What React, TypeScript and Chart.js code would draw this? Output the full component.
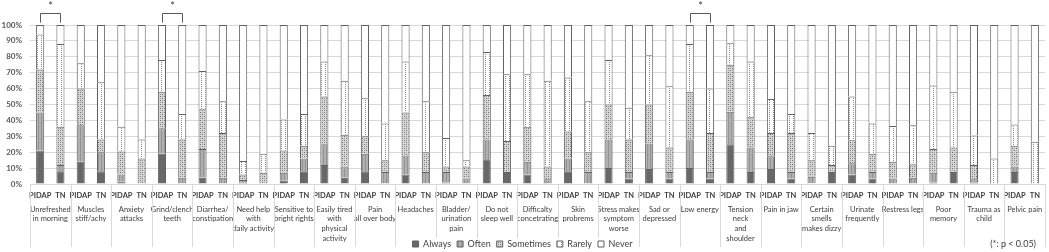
import React, { useEffect, useRef } from "react";
import { Chart, registerables } from "chart.js";

Chart.register(...registerables);

// ---------- DATA ----------
const groupLabels: string[][] = [
  ["Unrefreshed", "in morning"],
  ["Muscles", "stiff/achy"],
  ["Anxiety", "attacks"],
  ["Grind/clench", "teeth"],
  ["Diarrhea/", "constipation"],
  ["Need help", "with", "daily activity"],
  ["Sensitive to", "bright rights"],
  ["Easily tired", "with", "physical", "activity"],
  ["Pain", "all over body"],
  ["Headaches"],
  ["Bladder/", "urination", "pain"],
  ["Do not", "sleep well"],
  ["Difficalty", "concetrating"],
  ["Skin", "probrems"],
  ["Stress makes", "symptom", "worse"],
  ["Sad or", "depressed"],
  ["Low energy"],
  ["Tension", "neck", "and", "shoulder"],
  ["Pain in jaw"],
  ["Certain", "smells", "makes dizzy"],
  ["Urinate", "frequently"],
  ["Restress legs"],
  ["Poor", "memory"],
  ["Trauma as", "child"],
  ["Pelvic pain"],
];

const subGroups = ["PIDAP", "TN"];

const seriesNames = ["Always", "Often", "Sometimes", "Rarely", "Never"];

// percentages per bar (PIDAP, TN alternating, in group order)
const always = [21, 8, 14, 8, 1.5, 0, 19, 0, 4, 0, 1, 0, 2, 8, 12, 4, 8, 0, 6, 0, 1, 0, 15.5, 7.5, 6, 0, 8, 0, 10, 3.5, 9.5, 3.5, 10, 3.5, 25, 7.5, 9.5, 3.5, 0.5, 7.5, 6, 3.5, 0, 0, 1, 7.5, 1, 0, 7.5, 0];
const often = [24, 4, 23, 12, 4.5, 0, 16, 4, 18, 4, 1.5, 0, 5, 8, 13, 7, 11, 7.5, 12, 7.5, 6.5, 3.5, 12.5, 0, 8, 3, 8, 7.5, 18, 4, 16, 4, 18, 4, 20.5, 15.5, 8, 4, 4, 0, 7, 4, 3.5, 4, 6, 0, 2, 0, 3.5, 0];
const sometimes = [27, 24, 23, 8, 14.5, 16, 23, 24, 25, 28, 3.5, 7, 14, 8, 30, 20, 11, 7.5, 27, 12.5, 3.5, 7.5, 28, 19.5, 22, 8, 17, 12.5, 22, 20.5, 24.5, 15.5, 30, 24.5, 29.5, 19, 14.5, 24.5, 10.5, 4.5, 14.5, 11.5, 10.5, 8.5, 15, 15.5, 9, 0, 13, 0];
const rarely = [22, 52, 16, 36, 15.5, 12, 20, 16, 24, 20, 8.5, 12, 19.5, 20, 22, 34, 24, 23, 32, 32, 18, 4, 27, 42, 33, 54, 34, 32, 28, 20, 31, 38.5, 30, 28, 13.5, 35, 21.5, 12, 17, 12, 27.5, 19, 22.5, 24.5, 40, 35, 18.5, 16, 13.5, 26.5];
const never = [6, 12, 24, 36, 64, 72, 22, 56, 29, 48, 85.5, 81, 59.5, 56, 23, 35, 46, 62, 23, 48, 71, 85, 17, 31, 31, 35, 33, 48, 22, 52, 19, 38.5, 12, 40, 11.5, 23, 46.5, 56, 68, 76, 45, 62, 63.5, 63, 38, 42, 69.5, 84, 62.5, 73.5];

const yTickValues = [0, 10, 20, 30, 40, 50, 60, 70, 80, 90, 100];

// significant pairs (bar indices), bracket levels in % units
const sigPairs: [number, number][] = [
  [0, 1],
  [6, 7],
  [32, 33],
];
const bracketLow = 101.5;
const bracketHigh = 107.5;
const starLevel = 112;
const pNote = "(*: p < 0.05)";

// ---------- STYLE HELPERS ----------
function makePattern(
  w: number,
  h: number,
  bg: string,
  dots: [number, number, string][]
): CanvasPattern | string {
  const c = document.createElement("canvas");
  c.width = w;
  c.height = h;
  const g = c.getContext("2d");
  if (!g) return bg;
  g.fillStyle = bg;
  g.fillRect(0, 0, w, h);
  for (const [x, y, col] of dots) {
    g.fillStyle = col;
    g.fillRect(x, y, 1, 1);
  }
  return g.createPattern(c, "repeat") || bg;
}

const FONT = "Lato";

const annotPlugin = {
  id: "annot",
  afterDraw(chart: any) {
    const { ctx, chartArea, scales } = chart;
    const xs = scales.x;
    const ys = scales.y;
    ctx.save();

    // legend extent (centered)
    let lgL = -1;
    let lgR = -1;
    const lg = chart.legend;
    if (lg && lg.lineWidths && lg.lineWidths.length) {
      const pad = lg.options.labels.padding;
      const lw = lg.lineWidths[0];
      lgL = (lg.left + pad + lg.right - lw) / 2 - 3;
      lgR = lgL + lw - pad + 6;
    }

    // group separators
    ctx.strokeStyle = "#d9d9d9";
    ctx.lineWidth = 1;
    const n = groupLabels.length;
    for (let g = 0; g <= n; g++) {
      let x: number;
      if (g === 0) x = chartArea.left;
      else if (g === n) x = chartArea.right;
      else x = (xs.getPixelForValue(2 * g - 1) + xs.getPixelForValue(2 * g)) / 2;
      x = Math.round(x) + 0.5;
      const yEnd = x > lgL && x < lgR ? 238 : 247;
      ctx.beginPath();
      ctx.moveTo(x, chartArea.bottom);
      ctx.lineTo(x, yEnd);
      ctx.stroke();
    }

    // significance brackets
    ctx.strokeStyle = "#595959";
    ctx.fillStyle = "#404040";
    ctx.font = `11px ${FONT}`;
    ctx.textAlign = "center";
    ctx.textBaseline = "middle";
    const yLow = ys.getPixelForValue(bracketLow);
    const yHigh = Math.round(ys.getPixelForValue(bracketHigh)) + 0.5;
    const yStar = ys.getPixelForValue(starLevel);
    for (const [a, b] of sigPairs) {
      const xa = Math.round(xs.getPixelForValue(a)) + 0.5;
      const xb = Math.round(xs.getPixelForValue(b)) + 0.5;
      ctx.beginPath();
      ctx.moveTo(xa, yLow);
      ctx.lineTo(xa, yHigh);
      ctx.lineTo(xb, yHigh);
      ctx.lineTo(xb, yLow);
      ctx.stroke();
      ctx.fillText("*", (xa + xb) / 2, yStar + 1);
    }

    // p-value note
    ctx.font = `9px ${FONT}`;
    ctx.textAlign = "right";
    ctx.fillText(pNote, 1036, 244);
    ctx.restore();
  },
};

export default function App() {
  const ref = useRef<HTMLCanvasElement>(null);

  useEffect(() => {
    if (!ref.current) return;
    const patterns = [
      "#686868",
      makePattern(3, 1, "#b0b0b0", [[2, 0, "#939393"]]),
      makePattern(4, 4, "#d6d6d6", [
        [0, 0, "#707070"],
        [2, 2, "#707070"],
        [2, 0, "#a4a4a4"],
        [0, 2, "#a4a4a4"],
      ]),
      makePattern(4, 4, "#ffffff", [
        [1, 0, "#8a8a8a"],
        [1, 2, "#8a8a8a"],
      ]),
      "#ffffff",
    ];
    const seriesData = [always, often, sometimes, rarely, never];
    const barLabels = groupLabels.flatMap(() => subGroups);

    const chart = new Chart(ref.current, {
      type: "bar",
      data: {
        labels: barLabels,
        datasets: seriesNames.map((name, i) => ({
          label: name,
          data: seriesData[i].map((v) => (v === 0 ? null : v)),
          backgroundColor: patterns[i] as any,
          borderColor: "#616161",
          borderWidth: 1,
          borderSkipped: "start" as const,
          barPercentage: 0.4,
          categoryPercentage: 1,
          xAxisID: "x",
          yAxisID: "y",
        })),
      },
      options: {
        animation: false,
        responsive: false,
        maintainAspectRatio: false,
        layout: { padding: { top: 25, right: 4, left: 0, bottom: -6.5 } },
        scales: {
          x: {
            stacked: true,
            offset: true,
            grid: { display: false, drawTicks: false },
            border: { display: false },
            ticks: {
              autoSkip: false,
              maxRotation: 0,
              minRotation: 0,
              padding: 7,
              color: "#404040",
              font: { family: FONT, size: 7.5, weight: "bold", lineHeight: 1.2 },
            },
            afterFit: (s: any) => {
              s.height = 18;
            },
          },
          x2: {
            type: "category",
            labels: groupLabels as any,
            position: "bottom",
            offset: true,
            grid: { display: false, drawTicks: false },
            border: { display: false },
            ticks: {
              autoSkip: false,
              maxRotation: 0,
              minRotation: 0,
              padding: 2.5,
              color: "#404040",
              font: { family: FONT, size: 7.5, lineHeight: 1.29 },
            },
            afterFit: (s: any) => {
              s.height = 31.5;
              // let multi-line group labels run past the axis box (into the legend band)
              s._computeLabelArea = () => undefined;
            },
          },
          y: {
            stacked: true,
            min: 0,
            max: 100,
            afterBuildTicks: (s: any) => {
              s.ticks = yTickValues.map((v) => ({ value: v }));
            },
            ticks: {
              padding: 8,
              color: "#595959",
              font: { family: FONT, size: 8, weight: "bold" },
              callback: (v: any) => `${v}%`,
            },
            grid: { color: "#d9d9d9", drawTicks: false },
            border: { display: false },
            afterFit: (s: any) => {
              s.width = 30;
            },
          },
        },
        plugins: {
          legend: {
            position: "bottom",
            labels: {
              boxWidth: 6,
              boxHeight: 6,
              padding: 6,
              color: "#404040",
              font: { family: FONT, size: 9 },
            },
          },
          tooltip: { enabled: false },
        },
      },
      plugins: [annotPlugin],
    } as any);

    return () => chart.destroy();
  }, []);

  return (
    <div style={{ position: "fixed", left: 0, top: 0, width: 1049, height: 252, background: "#ffffff" }}>
      <canvas ref={ref} width={1049} height={252} style={{ width: 1049, height: 252, display: "block" }} />
    </div>
  );
}
